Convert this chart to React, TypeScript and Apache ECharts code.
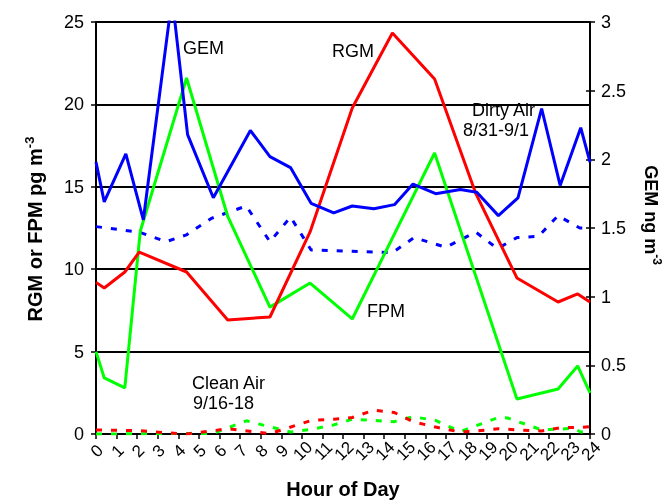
import React, { useEffect, useRef } from 'react';
import * as echarts from 'echarts';

const hourLabels = ['0', '1', '2', '3', '4', '5', '6', '7', '8', '9', '10', '11', '12', '13', '14', '15', '16', '17', '18', '19', '20', '21', '22', '23', '24'];

// Dirty Air 8/31-9/1 (solid lines)
const gemDirty: [number, number][] = [
  [0, 1.98], [0.4, 1.69], [1.45, 2.04], [2.3, 1.56], [3.7, 3.18], [4.45, 2.18], [5.7, 1.72],
  [7.5, 2.21], [8.45, 2.02], [9.45, 1.94], [10.45, 1.68], [11.55, 1.61], [12.45, 1.66],
  [13.5, 1.64], [14.5, 1.67], [15.4, 1.82], [16.5, 1.75], [17.7, 1.78], [18.5, 1.76],
  [19.55, 1.59], [20.5, 1.72], [21.65, 2.37], [22.55, 1.81], [23.55, 2.23], [24, 1.98],
];
const rgmDirty: [number, number][] = [
  [0, 9.2], [0.4, 8.86], [1.4, 9.83], [2.1, 11.04], [4.4, 9.83], [6.4, 6.92], [8.45, 7.1],
  [10.4, 12.26], [12.45, 19.78], [14.4, 24.33], [16.45, 21.54], [18.45, 14.6], [20.45, 9.47],
  [22.45, 8.01], [23.4, 8.5], [24, 8.01],
];
const fpmDirty: [number, number][] = [
  [0, 5.0], [0.4, 3.4], [1.4, 2.8], [2.15, 12.3], [4.4, 21.6], [6.4, 13.2], [8.45, 7.7],
  [10.4, 9.16], [12.45, 6.98], [16.45, 17.05], [20.45, 2.12], [22.45, 2.73], [23.4, 4.13],
  [24, 2.49],
];

// Clean Air 9/16-18 (dotted lines)
const gemClean: [number, number][] = [
  [0, 1.51], [2.1, 1.47], [3.4, 1.40], [4.4, 1.45], [5.6, 1.57], [7.3, 1.66], [8.45, 1.40],
  [9.45, 1.58], [10.45, 1.34], [12.45, 1.33], [14.4, 1.32], [15.45, 1.43], [17.0, 1.36],
  [18.45, 1.47], [19.5, 1.35], [20.45, 1.43], [21.5, 1.44], [22.45, 1.59], [23.5, 1.50], [24, 1.50],
];
const rgmClean: [number, number][] = [
  [0, 0.25], [2.1, 0.2], [3.4, 0.08], [4.4, 0.0], [5.7, 0.2], [6.4, 0.32], [8.45, 0.02],
  [10.45, 0.82], [11.55, 0.9], [12.45, 1.0], [13.5, 1.45], [14.5, 1.3], [15.4, 0.75],
  [16.5, 0.42], [17.7, 0.12], [18.5, 0.18], [19.55, 0.32], [20.5, 0.25], [21.65, 0.18],
  [22.55, 0.38], [23.55, 0.4], [24, 0.45],
];
const fpmClean: [number, number][] = [
  [0, 0], [5.7, 0.04], [7.3, 0.8], [9.45, 0.12], [10.45, 0.28], [11.55, 0.55], [12.45, 0.9],
  [13.5, 0.82], [14.5, 0.75], [15.4, 1.05], [16.5, 0.82], [17.7, 0.15], [19.55, 1.0],
  [20.0, 0.97], [21.65, 0.25], [22.55, 0.3], [23.2, 0.35], [23.55, 0.12], [24, 0.12],
];

const BLUE = '#0000ff';
const RED = '#ff0000';
const GREEN = '#00ff00';
const FONT = '"Liberation Sans", Arial, Helvetica, sans-serif';

export default function App() {
  const ref = useRef<HTMLDivElement>(null);
  useEffect(() => {
    const chart = echarts.init(ref.current!, null, { renderer: 'svg' });
    const solid = (name: string, data: [number, number][], color: string, yAxisIndex: number) => ({
      type: 'line', name, data, yAxisIndex, symbol: 'none', clip: true,
      lineStyle: { color, width: 3 }, itemStyle: { color },
    });
    const dotted = (name: string, data: [number, number][], color: string, yAxisIndex: number) => ({
      type: 'line', name, data, yAxisIndex, symbol: 'none', clip: true,
      lineStyle: { color, width: 3, type: [6, 9], cap: 'butt' }, itemStyle: { color },
    });
    const txt = (text: string, x: number, y: number) => ({
      type: 'text', x, y, z: 100,
      style: { text, fontSize: 18, fontFamily: FONT, fill: '#000', align: 'left', verticalAlign: 'middle' },
    });
    chart.setOption({
      animation: false,
      textStyle: { fontFamily: FONT },
      grid: { left: 96, right: 75, top: 22, bottom: 68 },
      xAxis: {
        type: 'value', min: 0, max: 24, interval: 1,
        axisLine: { lineStyle: { color: '#000', width: 2 } },
        axisTick: { show: true, length: 5, lineStyle: { color: '#000', width: 1.5 } },
        axisLabel: { show: false },
        splitLine: { show: false },
      },
      yAxis: [
        {
          type: 'value', min: 0, max: 25, interval: 5, position: 'left',
          axisLine: { show: true, lineStyle: { color: '#000', width: 2 } },
          axisTick: { show: true, length: 5, lineStyle: { color: '#000', width: 1.5 } },
          axisLabel: { fontSize: 18, color: '#000', margin: 12, fontFamily: FONT },
          splitLine: { show: true, lineStyle: { color: '#000', width: 2 } },
        },
        {
          type: 'value', min: 0, max: 3, interval: 0.5, position: 'right',
          axisLine: { show: true, lineStyle: { color: '#000', width: 2 } },
          axisTick: { show: true, length: 5, lineStyle: { color: '#000', width: 1.5 } },
          axisLabel: { fontSize: 18, color: '#000', margin: 11, fontFamily: FONT },
          splitLine: { show: false },
        },
        {
          type: 'value', min: 0, max: 3, interval: 0.5, position: 'right',
          axisLine: { show: false },
          axisTick: { show: true, inside: true, length: 4, lineStyle: { color: '#000', width: 1.5 } },
          axisLabel: { show: false },
          splitLine: { show: false },
        },
      ],
      series: [
        dotted('GEM clean', gemClean, BLUE, 1),
        dotted('FPM clean', fpmClean, GREEN, 0),
        dotted('RGM clean', rgmClean, RED, 0),
        solid('FPM', fpmDirty, GREEN, 0),
        solid('RGM', rgmDirty, RED, 0),
        solid('GEM', gemDirty, BLUE, 1),
      ],
    });

    // x-axis tick labels, placed through the chart's own x scale
    const xLabels = hourLabels.map((label, i) => {
      const p = chart.convertToPixel({ xAxisIndex: 0, yAxisIndex: 0 }, [i, 0]) as number[];
      return {
        type: 'text', x: p[0] + 1, y: p[1] + 17, rotation: Math.PI / 4, z: 100,
        style: { text: label, fontSize: 17, fontFamily: FONT, fill: '#000', align: 'center', verticalAlign: 'middle' },
      };
    });

    chart.setOption({
      graphic: [
        ...xLabels,
        txt('GEM', 183, 48),
        txt('RGM', 332, 51),
        txt('Dirty Air', 472, 110),
        txt('8/31-9/1', 463, 130),
        txt('FPM', 367, 311),
        txt('Clean Air', 192, 383),
        txt('9/16-18', 193, 403),
        {
          type: 'text', x: 343, y: 489, z: 100,
          style: { text: 'Hour of Day', fontSize: 20, fontWeight: 'bold', fontFamily: FONT, fill: '#000', align: 'center', verticalAlign: 'middle' },
        },
        {
          type: 'text', x: 35, y: 229, rotation: Math.PI / 2, z: 100,
          style: {
            text: '{a|RGM or FPM pg m}{s|-3}', align: 'center', verticalAlign: 'middle', fill: '#000',
            rich: {
              a: { fontSize: 20, fontWeight: 'bold', fontFamily: FONT, lineHeight: 24, fill: '#000' },
              s: { fontSize: 13, fontWeight: 'bold', fontFamily: FONT, verticalAlign: 'top', lineHeight: 13, fill: '#000' },
            },
          },
        },
        {
          type: 'text', x: 651, y: 215, rotation: -Math.PI / 2, z: 100,
          style: {
            text: '{a|GEM ng m}{s|-3}', align: 'center', verticalAlign: 'middle', fill: '#000',
            rich: {
              a: { fontSize: 18, fontWeight: 'bold', fontFamily: FONT, lineHeight: 24, fill: '#000' },
              s: { fontSize: 12, fontWeight: 'bold', fontFamily: FONT, verticalAlign: 'top', lineHeight: 12, fill: '#000' },
            },
          },
        },
      ],
    });
    return () => chart.dispose();
  }, []);
  return <div ref={ref} style={{ position: 'fixed', left: 0, top: 0, width: 665, height: 502 }} />;
}
